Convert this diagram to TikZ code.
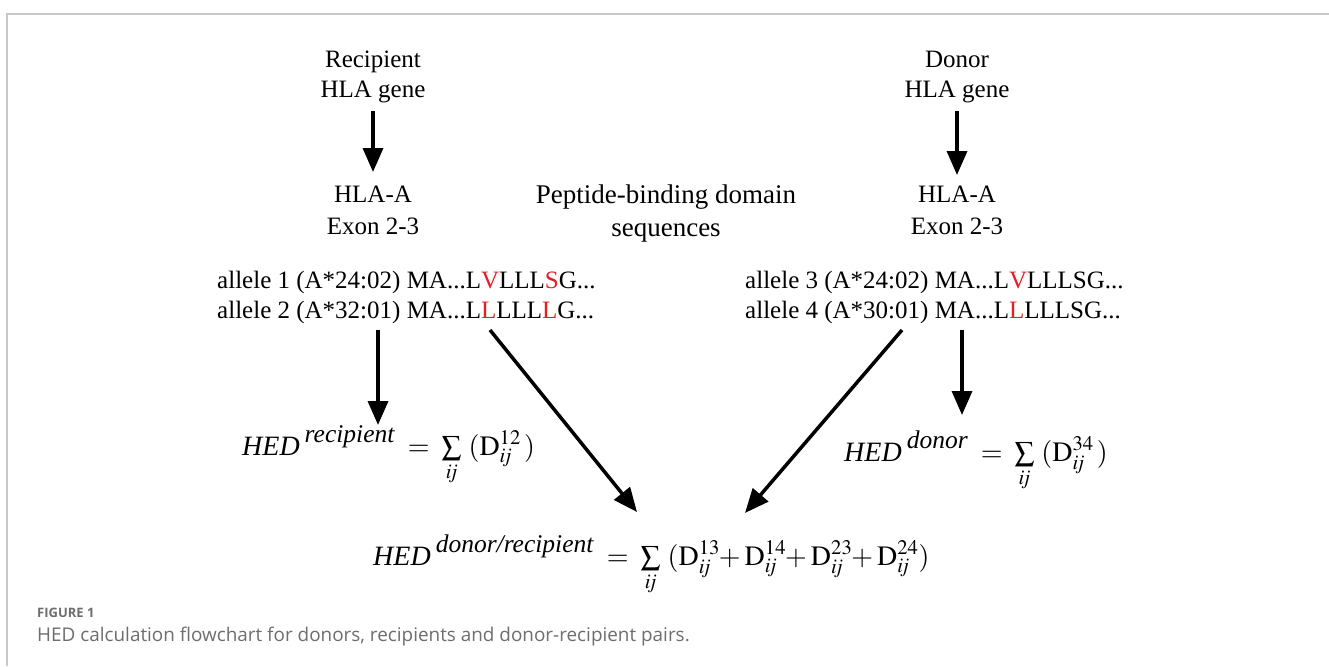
\documentclass[tikz,border=0pt]{standalone}
\usepackage{mathptmx}
\usepackage[no-math]{fontspec}
\setmainfont{Liberation Serif}
\newfontfamily\capfont{Open Sans}
\usetikzlibrary{arrows.meta}
\definecolor{seqred}{RGB}{230,30,35}
\definecolor{framegray}{RGB}{200,200,200}
\definecolor{capgray}{RGB}{110,110,110}
\newcommand{\rd}[1]{\textcolor{seqred}{#1}}
\newcommand{\hedsup}[1]{\textit{HED}\hspace{5pt}\raisebox{13pt}{\fontsize{25.5}{25}\selectfont\textit{#1}}\hspace{13pt}${=}$\hspace{12pt}$\sum\limits_{\mathit{ij}}$\hspace{7pt}}
\newcommand{\Dij}[1]{\mathrm{D}^{#1}_{\mathit{ij}}}
\newcommand{\pl}{\hspace{-1pt}{+}\hspace{4pt}}
\begin{document}
\begin{tikzpicture}[x=1pt,y=-1pt,
  txt/.style={font=\fontsize{25}{32}\selectfont, inner sep=0pt, align=center},
  seq/.style={font=\fontsize{25}{30}\selectfont, inner sep=0pt, anchor=base west},
  formula/.style={font=\fontsize{28}{30}\selectfont, inner sep=0pt, anchor=base west},
  arr/.style={line width=3.5pt, -{Triangle[length=24pt,width=20pt]}},
  ]
\useasboundingbox (0,0) rectangle (1329,666);
\fill[white] (0,0) rectangle (1329,666);
\draw[framegray, line width=2pt] (7,666) -- (7,14) -- (1329,14);

% headers
\node[txt, font=\fontsize{25}{30}\selectfont] (rgene) at (373,77) {Recipient\\HLA gene};
\node[txt, font=\fontsize{25}{30}\selectfont] (dgene) at (957,77) {Donor\\HLA gene};
\node[txt] (rexon) at (373,210) {HLA-A\\Exon 2-3};
\node[txt] (dexon) at (957,210) {HLA-A\\Exon 2-3};
\node[txt, font=\fontsize{27}{33}\selectfont] (pep) at (666,214) {Peptide-binding domain\\sequences};

% sequences
\node[seq] (a1) at (217,288) {allele 1 (A*24:02) MA...L\rd{V}LLL\rd{S}G...};
\node[seq] (a2) at (217,318) {allele 2 (A*32:01) MA...L\rd{L}LLL\rd{L}G...};
\node[seq] (a3) at (745,288) {allele 3 (A*24:02) MA...L\rd{V}LLLSG...};
\node[seq] (a4) at (745,318) {allele 4 (A*30:01) MA...L\rd{L}LLLSG...};

% formulas
\node[formula] (hedr) at (242,455) {\hedsup{recipient}$(\Dij{12}\,)$};
\node[formula] (hedd) at (844,461) {\hedsup{donor}$(\Dij{34}\,)$};
\node[formula] (hedp) at (373,565) {\hedsup{donor/recipient}$(\Dij{13}\pl\Dij{14}\pl\Dij{23}\pl\Dij{24})$};

% connector end points
\coordinate (s1) at (378,330);
\coordinate (e1) at (378,425);
\coordinate (s2) at (490,330);
\coordinate (e2) at (637,512);
\coordinate (s3) at (902,330);
\coordinate (e3) at (745,513);
\coordinate (s4) at (962,330);
\coordinate (e4) at (962,415);

\draw[arr] (rgene.south) ++(0,8) -- (rexon.north |- 0,172);
\draw[arr] (dgene.south) ++(0,8) -- (dexon.north |- 0,175);
\draw[arr] (s1) -- (e1);
\draw[arr] (s2) -- (e2);
\draw[arr] (s3) -- (e3);
\draw[arr] (s4) -- (e4);

% caption
\node[anchor=base west, inner sep=0pt, text=capgray, font=\capfont\bfseries\fontsize{13}{16}\selectfont] (capt) at (37,617) {FIGURE 1};
\node[anchor=base west, inner sep=0pt, text=capgray, font=\capfont\fontsize{18.9}{22}\selectfont] (capx) at (37,641) {HED calculation flowchart for donors, recipients and donor-recipient pairs.};
\end{tikzpicture}
\end{document}
